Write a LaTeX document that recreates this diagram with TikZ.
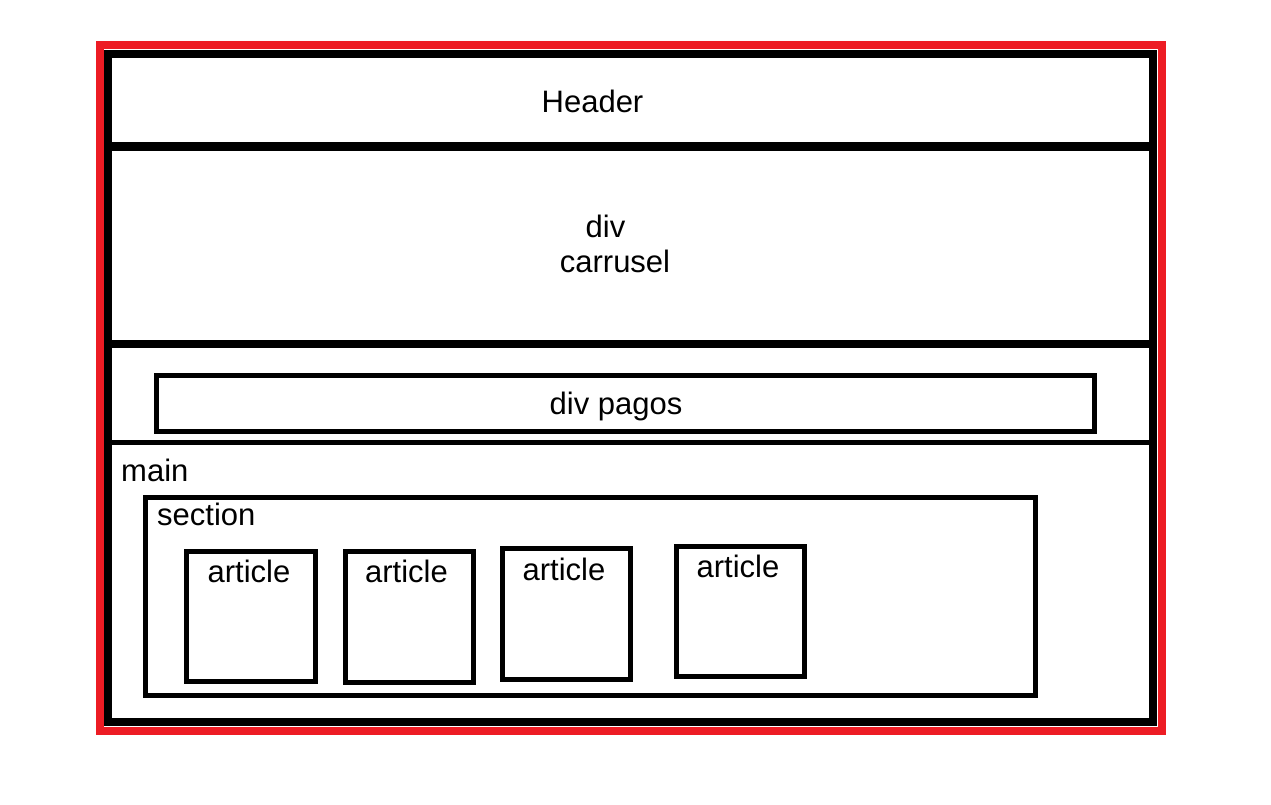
\documentclass[tikz,border=0pt]{standalone}
\usepackage{fontspec}
\setmainfont{Liberation Sans}
\usetikzlibrary{positioning,calc}
\definecolor{paintred}{RGB}{237,28,36}

\begin{document}
\begin{tikzpicture}[x=1pt, y=-1pt,
        every node/.style={font=\fontsize{31}{36}\selectfont, inner sep=0pt, anchor=base},
        heavy/.style={line width=8pt},
        thinbox/.style={line width=5pt}]
        \useasboundingbox (0,0) rectangle (1271,804);

        % Outer red frame
        \draw[paintred, heavy] (100,45) rectangle (1162,731);

        % Page body
        \draw[heavy] (108,54) rectangle (1153,722);

        % Band separators
        \draw[line width=9pt] (108,146) -- (1153,146);
        \draw[heavy] (108,344) -- (1153,344);
        \draw[thinbox] (108,442.5) -- (1153,442.5);

        % div pagos box
        \draw[thinbox] (156,375) rectangle (1094,431.5);

        % Section box
        \draw[thinbox] (145.5,497.5) rectangle (1035,695.5);

        % Article boxes
        \draw[thinbox] (186.5,551) rectangle (315,681.5);
        \draw[thinbox] (345,551) rectangle (473,682);
        \draw[thinbox] (502,548.5) rectangle (630,679);
        \draw[thinbox] (676,546) rectangle (804,676.5);

        % Labels
        \node (header) at (592.5,112) {Header};
        \node (div) at (605.5,237) {div};
        \node (carrusel) at (615,272.5) {carrusel};
        \node (pagos) at (616,414) {div pagos};
        \node[anchor=base west] (main) at (121,481) {main};
        \node[anchor=base west] (section) at (157,525) {section};
        \node (art1) at (249,582.5) {article};
        \node (art2) at (406.5,582.5) {article};
        \node (art3) at (564,580.5) {article};
        \node (art4) at (738,577.5) {article};
    \end{tikzpicture}
\end{document}
